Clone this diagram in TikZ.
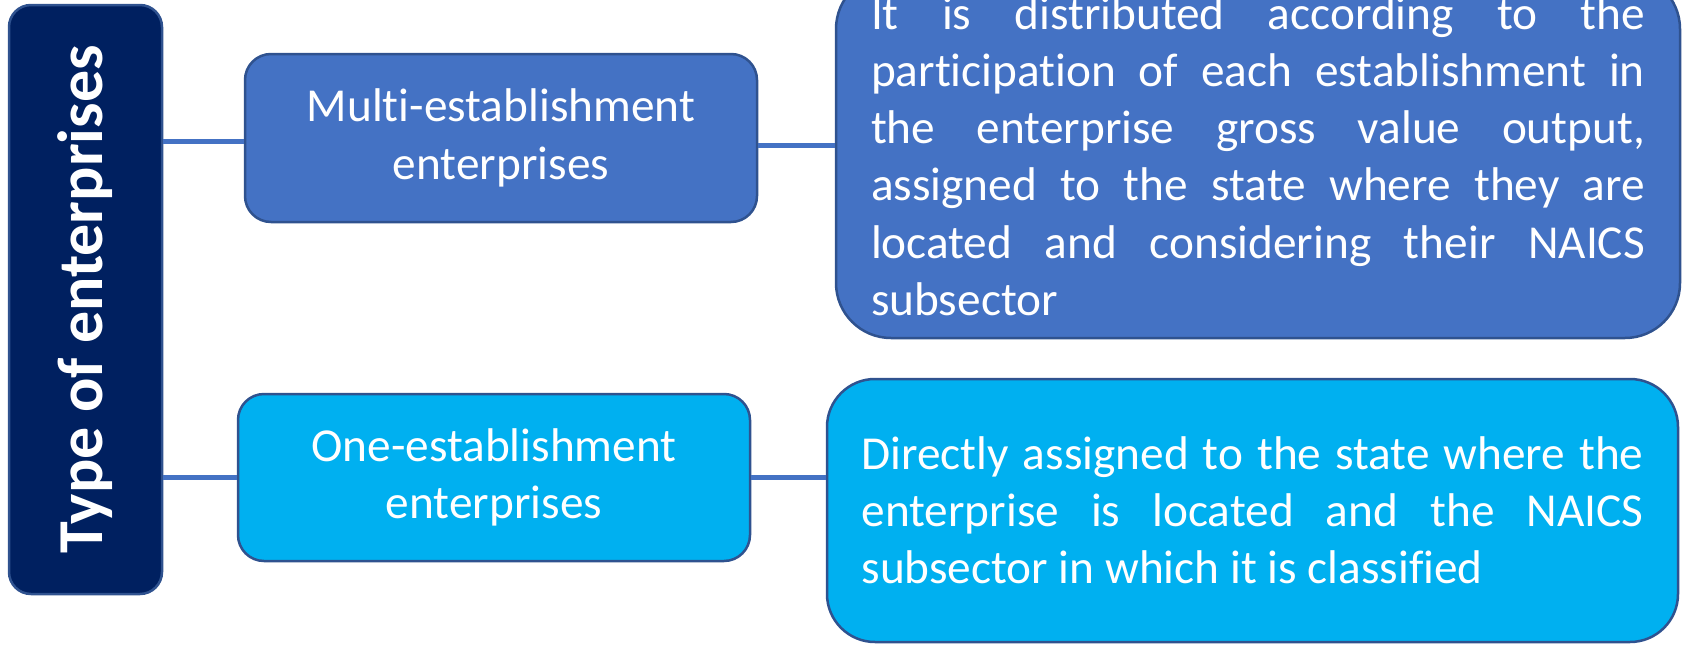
\documentclass[tikz,border=0pt]{standalone}
\usepackage{fontspec}
\usepackage{graphicx}
\setmainfont{Carlito}[Ligatures={NoCommon,NoRequired,NoContextual}]
\newcommand\nolig{\kern0pt}
\definecolor{navy}{HTML}{002060}
\definecolor{mblue}{HTML}{4472C4}
\definecolor{cyanb}{HTML}{00B0F0}
\definecolor{edgeb}{HTML}{2F528F}
\begin{document}
\begin{tikzpicture}[x=1pt,y=-1pt,
  rbox/.style={draw=edgeb, line width=2.5pt, rounded corners=#1, inner sep=0pt, text=white},
  conn/.style={draw=mblue, line width=5pt},
  mid/.style={font=\fontsize{47.3}{57.5}\selectfont, align=center},
  para/.style={font=\fontsize{47.3}{57.2}\selectfont, align=left}
]
\useasboundingbox (0,0) rectangle (1684,645);
\clip (0,0) rectangle (1684,645);
\node[rbox=22pt, fill=navy, minimum width=153pt, minimum height=589pt] (type) at (85.5,299.5)
  {\rotatebox{90}{\fontsize{64}{70}\selectfont\bfseries Type of enterprises}};
\node[rbox=26pt, fill=mblue, minimum width=512pt, minimum height=168pt, mid] (multi) at (501,138)
  {Mult\nolig i-establishment\\enterprises};
\node[rbox=26pt, fill=cyanb, minimum width=512pt, minimum height=167pt, mid] (one) at (494,477.5)
  {One-establishment\\enterprises};
\node[rbox=55pt, fill=mblue, minimum width=844pt, minimum height=364pt, para] (tr) at (1258,156)
  {\makebox[774pt][s]{It is distributed according to the}\\
   \makebox[774pt][s]{part\nolig icipat\nolig ion of each establishment in}\\
   \makebox[774pt][s]{the enterprise gross value output,}\\
   \makebox[774pt][s]{assigned to the state where they are}\\
   \makebox[774pt][s]{located and considering their NAICS}\\
   subsector};
\node[rbox=48pt, fill=cyanb, minimum width=851pt, minimum height=263pt, para] (br) at (1252.5,510.5)
  {\makebox[782pt][s]{Directly assigned to the state where the}\\
   \makebox[782pt][s]{enterprise is located and the NAICS}\\
   subsector in which it is classif\nolig ied};
\draw[conn] ([yshift=-3pt]type.east |- multi.west) -- ([yshift=-3pt]multi.west);
\draw[conn] ([yshift=-7pt]multi.east) -- ([yshift=-7pt]multi.east -| tr.west);
\draw[conn] (type.east |- one.west) -- (one.west);
\draw[conn] (one.east) -- (one.east -| br.west);
\end{tikzpicture}
\end{document}
